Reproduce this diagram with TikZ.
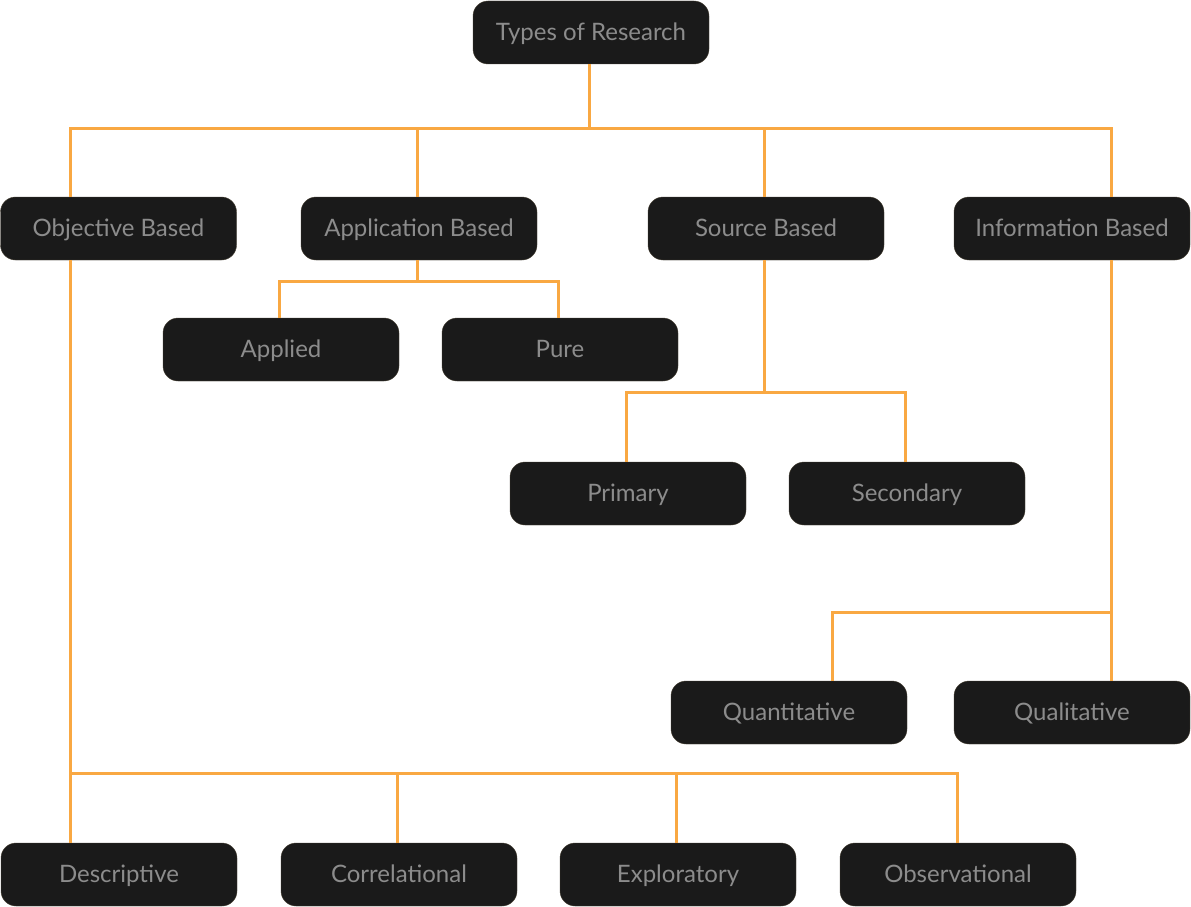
\documentclass[tikz,border=0pt]{standalone}
\usepackage{fontspec}
\setmainfont{Lato}
\usepackage{tikz}
\usetikzlibrary{positioning,calc}
\definecolor{Coal}{HTML}{1A1A1A}
\definecolor{Edge}{HTML}{4A4336}
\definecolor{Ash}{HTML}{8C8C8C}
\definecolor{Amber}{HTML}{F9A842}

\begin{document}
\begin{tikzpicture}[x=1pt,y=-1pt,
  every node/.style={font=\fontsize{24}{28}\selectfont,text=Ash},
  box/.style={rounded corners=15pt,draw=Edge,fill=Coal,minimum width=236pt,minimum height=63pt,inner sep=0pt,text height=19pt,text depth=3pt},
  link/.style={Amber,line width=3pt}
]
\useasboundingbox (0,0) rectangle (1191,907);
% root and first level
\node[box] (types) at (591,32.5) {Types of Research};
\node[box] (obj) at (118.5,228.5) {Objective Based};
\node[box] (app) at (419,228.5) {Application Based};
\node[box] (src) at (766,228.5) {Source Based};
\node[box] (info) at (1072,228.5) {Information Based};
% second level
\node[box] (applied) at (281,349.5) {Applied};
\node[box] (pure) at (560,349.5) {Pure};
\node[box] (primary) at (628,493.5) {Primary};
\node[box] (secondary) at (907,493.5) {Secondary};
\node[box] (quant) at (789,712.5) {Quantitative};
\node[box] (qual) at (1072,712.5) {Qualitative};
\node[box] (desc) at (119,874.5) {Descriptive};
\node[box] (corr) at (399,874.5) {Correlational};
\node[box] (expl) at (678,874.5) {Exploratory};
\node[box] (obs) at (958,874.5) {Observational};

% junctions
\coordinate (hub0) at ([xshift=-2]types.south |- 0,128);
\coordinate (hubapp) at ([xshift=-2]app.south |- 0,281);
\coordinate (hubsrc) at ([xshift=-2]src.south |- 0,392);
\coordinate (hubinfo) at ([xshift=39]info.south |- 0,612);
\coordinate (hubobj) at ([xshift=-48.5]obj.south |- 0,773);

% root -> first level
\draw[link] (types.south -| hub0) -- (hub0);
\draw[link] ([xshift=-48.5]obj.north) |- (hub0) -| ([xshift=39]info.north);
\draw[link] ([xshift=-2]app.north) -- ([xshift=-2]app.north |- hub0);
\draw[link] ([xshift=-2]src.north) -- ([xshift=-2]src.north |- hub0);

% application based
\draw[link] (app.south -| hubapp) -- (hubapp);
\draw[link] ([xshift=-2]applied.north) |- (hubapp) -| ([xshift=-2]pure.north);

% source based
\draw[link] (src.south -| hubsrc) -- (hubsrc);
\draw[link] ([xshift=-2]primary.north) |- (hubsrc) -| ([xshift=-2]secondary.north);

% information based
\draw[link] (info.south -| hubinfo) -- ([xshift=39]qual.north);
\draw[link] ([xshift=43]quant.north) |- (hubinfo);

% objective based
\draw[link] (obj.south -| hubobj) -- ([xshift=-49]desc.north);
\draw[link] (hubobj) -| ([xshift=-1]obs.north);
\draw[link] ([xshift=-2]corr.north) -- ([xshift=-2]corr.north |- hubobj);
\draw[link] ([xshift=-2]expl.north) -- ([xshift=-2]expl.north |- hubobj);
\end{tikzpicture}
\end{document}
